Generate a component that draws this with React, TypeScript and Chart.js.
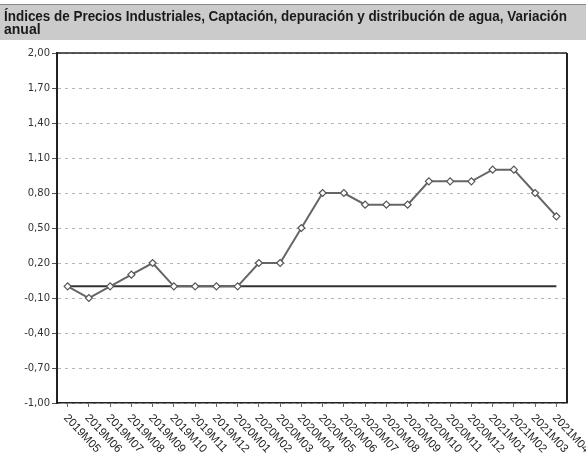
import React, { useEffect, useRef } from 'react';
import { Chart, registerables } from 'chart.js';

Chart.register(...registerables);

const TITLE_LINES = [
  'Índices de Precios Industriales, Captación, depuración y distribución de agua, Variación',
  'anual',
];

const CATEGORIES = [
  '2019M05', '2019M06', '2019M07', '2019M08', '2019M09', '2019M10', '2019M11', '2019M12',
  '2020M01', '2020M02', '2020M03', '2020M04', '2020M05', '2020M06', '2020M07', '2020M08',
  '2020M09', '2020M10', '2020M11', '2020M12', '2021M01', '2021M02', '2021M03', '2021M04',
];

const VARIATION = [
  0.0, -0.1, 0.0, 0.1, 0.2, 0.0, 0.0, 0.0,
  0.0, 0.2, 0.2, 0.5, 0.8, 0.8, 0.7, 0.7,
  0.7, 0.9, 0.9, 0.9, 1.0, 1.0, 0.8, 0.6,
];

const BASELINE = [
  0, 0, 0, 0, 0, 0, 0, 0,
  0, 0, 0, 0, 0, 0, 0, 0,
  0, 0, 0, 0, 0, 0, 0, 0,
];

const Y_MIN = -1.0;
const Y_MAX = 2.0;
const Y_STEP = 0.3;

const titleBandPlugin = {
  id: 'titleBand',
  beforeDraw(chart: any) {
    const { ctx, width } = chart;
    ctx.save();
    ctx.fillStyle = '#cbcbcb';
    ctx.fillRect(0, 4, width, 36);
    ctx.strokeStyle = '#888';
    ctx.lineWidth = 1;
    ctx.beginPath();
    ctx.moveTo(0, 4.5);
    ctx.lineTo(width, 4.5);
    ctx.stroke();
    ctx.restore();
  },
};

const framePlugin = {
  id: 'frame',
  beforeDatasetsDraw(chart: any) {
    const { ctx, chartArea } = chart;
    ctx.save();
    ctx.strokeStyle = '#222';
    ctx.lineWidth = 1.5;
    ctx.beginPath();
    ctx.moveTo(chartArea.left, chartArea.top);
    ctx.lineTo(chartArea.right, chartArea.top);
    ctx.stroke();
    ctx.lineWidth = 2;
    ctx.beginPath();
    ctx.moveTo(chartArea.right, chartArea.top);
    ctx.lineTo(chartArea.right, chartArea.bottom);
    ctx.stroke();
    ctx.restore();
  },
};

const xLabelsPlugin = {
  id: 'xLabels',
  afterDraw(chart: any) {
    const xs = chart.scales.x;
    const ctx = chart.ctx;
    ctx.save();
    ctx.font = '11.5px "Liberation Sans", Arial, sans-serif';
    ctx.fillStyle = '#1e1e1e';
    ctx.textAlign = 'left';
    ctx.textBaseline = 'middle';
    CATEGORIES.forEach((label, i) => {
      const x = xs.getPixelForTick(i);
      ctx.save();
      ctx.translate(x - 2, xs.top + 13);
      ctx.rotate((47 * Math.PI) / 180);
      ctx.fillText(label, 0, 0);
      ctx.restore();
    });
    ctx.restore();
  },
};

export default function App() {
  const canvasRef = useRef<HTMLCanvasElement | null>(null);

  useEffect(() => {
    document.body.style.margin = '0';
    const canvas = canvasRef.current;
    if (!canvas) return;
    const chart = new Chart(canvas, {
      type: 'line',
      data: {
        labels: CATEGORIES,
        datasets: [
          {
            label: 'Base',
            data: BASELINE,
            borderColor: '#333',
            borderWidth: 2,
            pointRadius: 0,
            order: 2,
          },
          {
            label: 'Variación anual',
            data: VARIATION,
            borderColor: '#666',
            borderWidth: 2,
            pointStyle: 'rectRot',
            pointRadius: 3.5,
            pointBorderWidth: 1.2,
            pointBorderColor: '#555',
            pointBackgroundColor: '#fff',
            tension: 0,
            order: 1,
          },
        ],
      },
      options: {
        animation: false,
        responsive: false,
        devicePixelRatio: 1,
        layout: { padding: { left: 4, right: 19, top: 0, bottom: 50 } },
        plugins: {
          legend: { display: false },
          tooltip: { enabled: false },
          title: {
            display: true,
            text: TITLE_LINES,
            align: 'start',
            color: '#1a1a1a',
            font: { family: '"Liberation Sans", Arial, sans-serif', size: 14, weight: 'bold', lineHeight: 0.93 },
            padding: { top: 11, bottom: 16 },
          },
        },
        scales: {
          x: {
            type: 'category',
            offset: true,
            ticks: { display: false },
            grid: { display: true, drawOnChartArea: false, drawTicks: true, tickLength: 4, color: '#666' },
            border: { display: true, color: '#222', width: 1.5 },
          },
          y: {
            min: Y_MIN,
            max: Y_MAX,
            afterFit: (scale: any) => {
              scale.width = 53;
            },
            ticks: {
              stepSize: Y_STEP,
              padding: 2,
              color: '#333',
              font: { family: '"DejaVu Sans", sans-serif', size: 10 },
              callback: (v: any) => Number(v).toFixed(2).replace('.', ','),
            },
            grid: { color: '#b5b5b5', tickColor: '#555', tickLength: 5, lineWidth: 1 },
            border: { display: true, color: '#222', width: 2, dash: [3, 4] },
          },
        },
      },
      plugins: [titleBandPlugin, framePlugin, xLabelsPlugin],
    });
    return () => chart.destroy();
  }, []);

  return (
    <div style={{ width: 586, height: 457, background: '#fff' }}>
      <canvas ref={canvasRef} width={586} height={457} style={{ display: 'block' }} />
    </div>
  );
}
